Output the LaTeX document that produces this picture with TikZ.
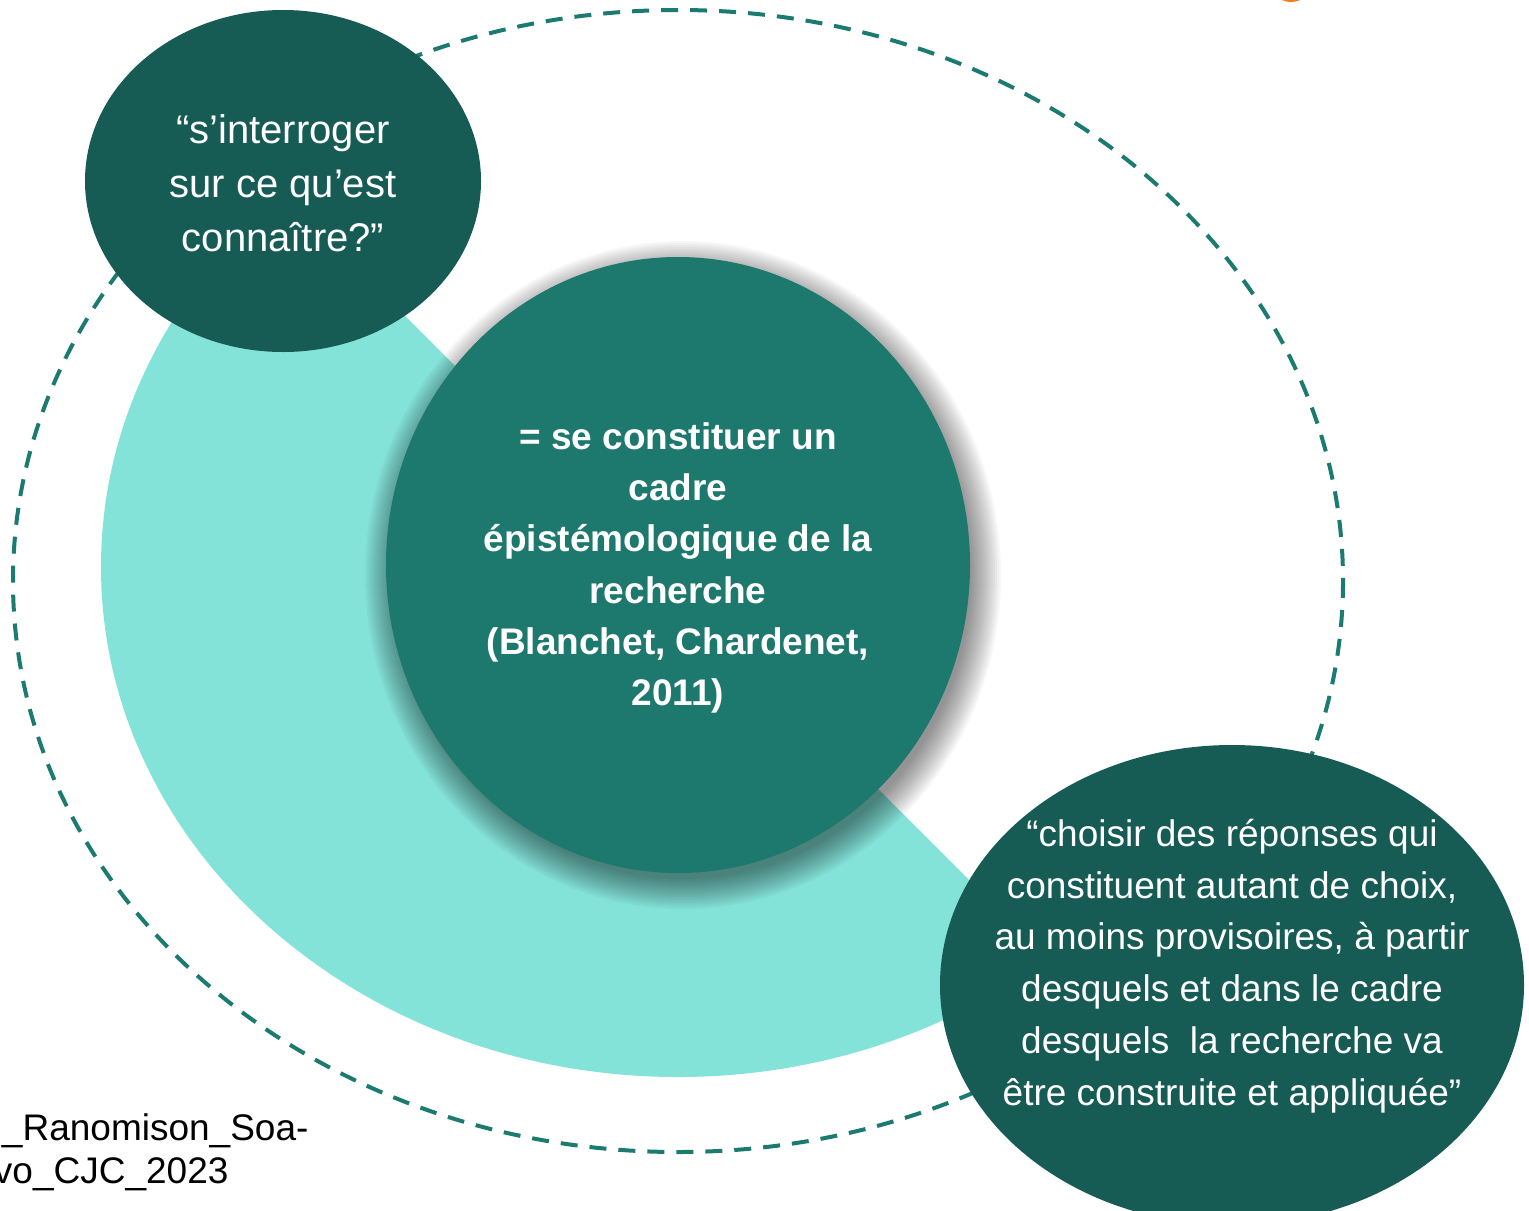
\documentclass[tikz,border=0pt]{standalone}
\usepackage{fontspec}
\setmainfont{Liberation Sans}
\definecolor{darkteal}{HTML}{165B54}
\definecolor{midteal}{HTML}{1D786E}
\definecolor{lightteal}{HTML}{84E3D9}
\definecolor{dashteal}{HTML}{1C7B70}
\definecolor{orangedot}{HTML}{F07E1E}
\begin{document}
\begin{tikzpicture}[x=0.5pt,y=-0.5pt,
  every node/.style={inner sep=0pt, outer sep=0pt},
  whitetext/.style={text=white, align=center},
  dashring/.style={draw=dashteal, line width=2pt, dash pattern=on 8.5pt off 6pt},
  shadowlayer/.style={fill=black, fill opacity=0.03}]
\useasboundingbox (0,0) rectangle (1529,1210);
\fill[white] (0,0) rectangle (1529,1210);
% orange sliver at top
\fill[orangedot] (1291,-20) circle [radius=22];
% dashed outer ring
\draw[dashring] (678,581) ellipse [x radius=665, y radius=571];
% light teal half ellipse
\begin{scope}
  \clip (-22,-111) -- (1378,1289) -- (1378,1700) -- (-400,1700) -- (-400,-111) -- cycle;
  \fill[lightteal] (678,567) ellipse [x radius=577, y radius=510];
\end{scope}
% top-left ellipse
\fill[darkteal] (283,181) ellipse [x radius=198, y radius=171];
% shadow of middle circle
\foreach \k in {1,...,16}{
  \fill[shadowlayer] (683,575) ellipse [x radius={290+2*\k-4}, y radius={306+2*\k-4}];
}
% middle circle
\fill[midteal] (678,565) ellipse [x radius=292, y radius=308];
% bottom-right ellipse
\fill[darkteal] (1232,985) ellipse [x radius=292, y radius=240];
% texts
\node[whitetext, font=\fontsize{20pt}{27pt}\selectfont] (q1) at (283,183)
  {“s’interroger\\sur ce qu’est\\connaître?”};
\node[whitetext, font=\fontsize{18.5pt}{25.6pt}\selectfont\bfseries] (def) at (678,568)
  {= se constituer un\\cadre\\épistémologique de la\\recherche\\(Blanchet, Chardenet,\\2011)};
\node[whitetext, font=\fontsize{18.5pt}{25.9pt}\selectfont] (q2) at (1232,966)
  {“choisir des réponses qui\\constituent autant de choix,\\au moins provisoires, à partir\\desquels et dans le cadre\\desquels\ \ la recherche va\\être construite et appliquée”};
\node[anchor=base west, font=\fontsize{18.5pt}{22pt}\selectfont, text=black] (c1) at (2,1140) {\_Ranomison\_Soa-};
\node[anchor=base west, font=\fontsize{18.5pt}{22pt}\selectfont, text=black] (c2) at (-6,1183) {vo\_CJC\_2023};
\end{tikzpicture}
\end{document}
